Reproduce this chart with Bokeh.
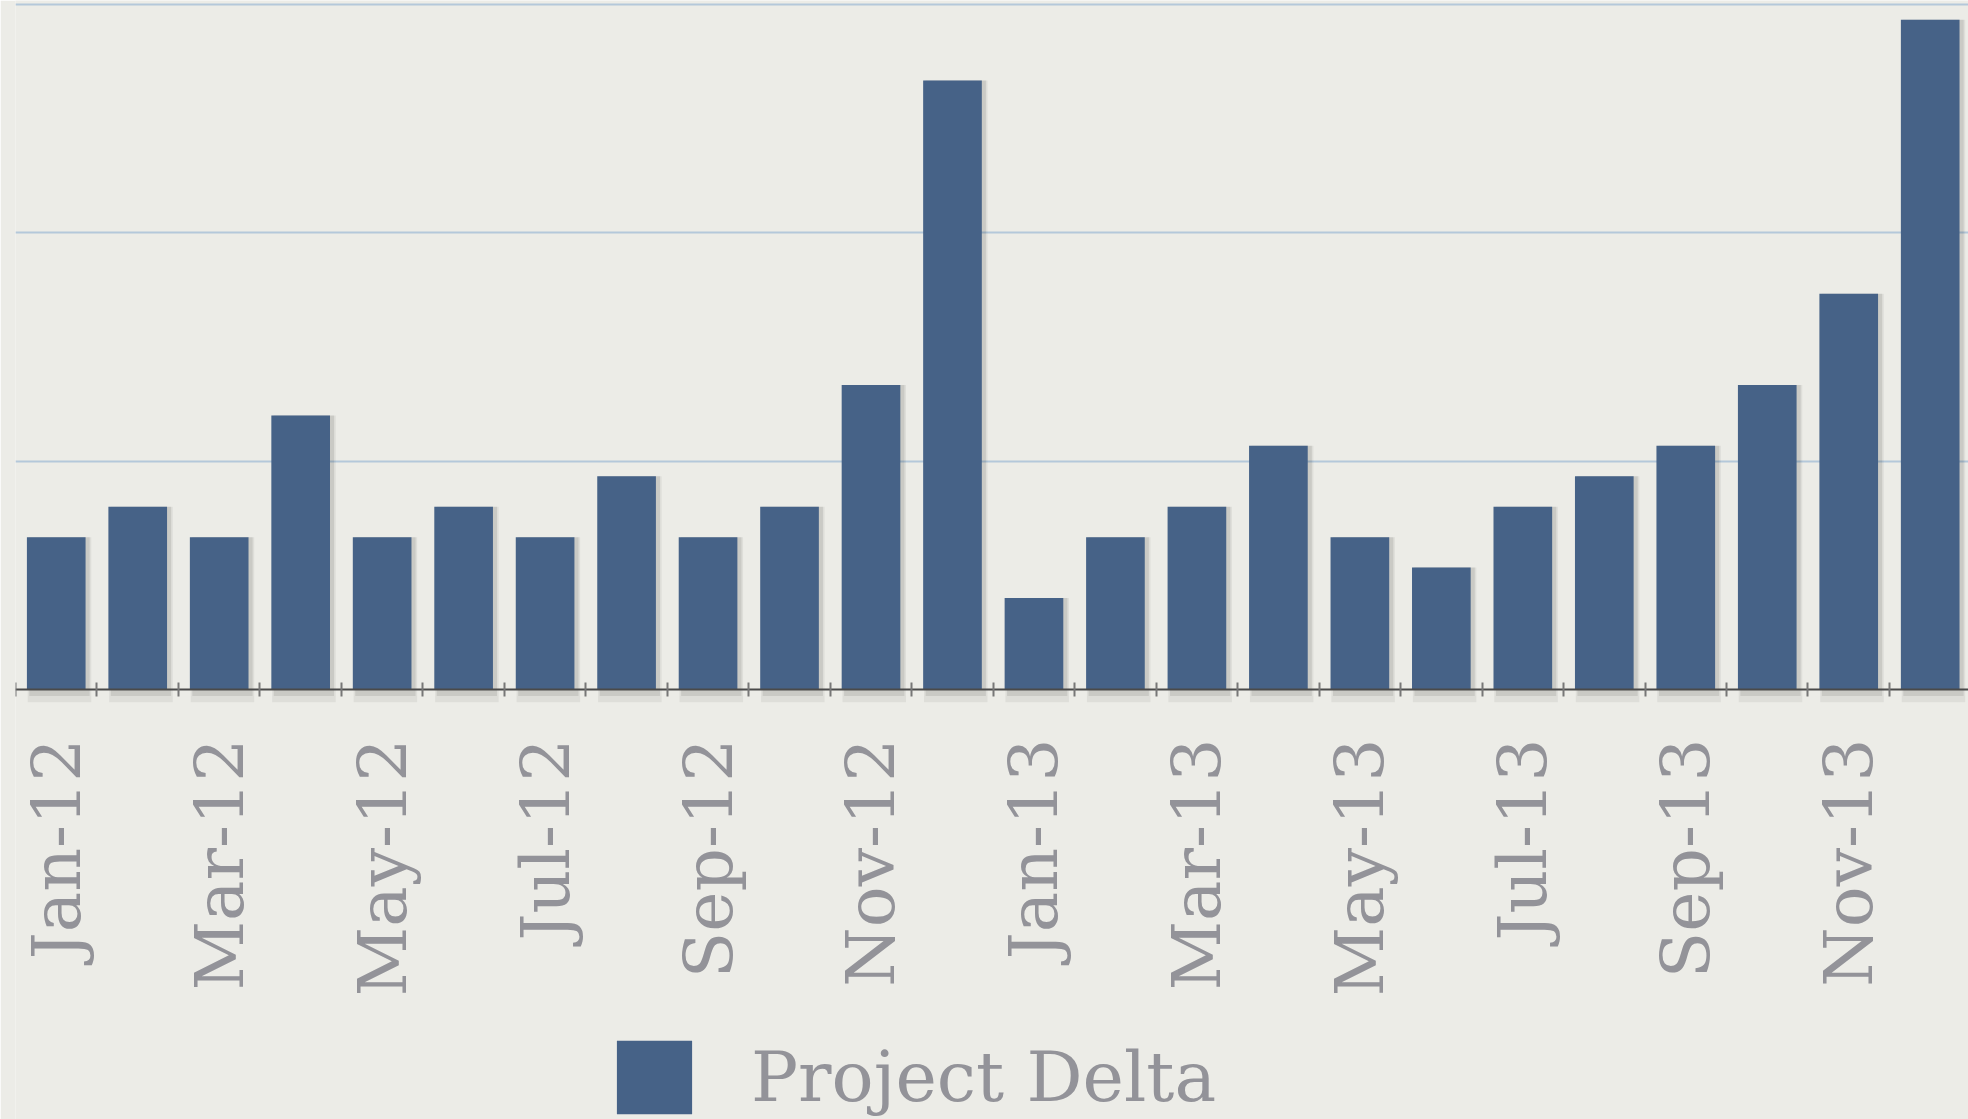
import math
from bokeh.plotting import figure
from bokeh.models import Range1d, FixedTicker, ColumnDataSource, Legend, LegendItem
from bokeh.embed import file_html
from bokeh.resources import INLINE

# ---- data ----
months = ["Jan-12", "Feb-12", "Mar-12", "Apr-12", "May-12", "Jun-12",
          "Jul-12", "Aug-12", "Sep-12", "Oct-12", "Nov-12", "Dec-12",
          "Jan-13", "Feb-13", "Mar-13", "Apr-13", "May-13", "Jun-13",
          "Jul-13", "Aug-13", "Sep-13", "Oct-13", "Nov-13", "Dec-13"]
values = [5, 6, 5, 9, 5, 6, 5, 7, 5, 6, 10, 20,
          3, 5, 6, 8, 5, 4, 6, 7, 8, 10, 13, 22]
series_name = "Project Delta"
gridlines = [7.5, 15, 22.5]

# ---- styles ----
BG = "#ECECE7"
BAR = "#466287"
GRAY = "#939399"
FONT = "DejaVu Serif"

xs = [i + 0.5 for i in range(len(months))]
src = ColumnDataSource(dict(x=xs, v=values,
                            sx=[x + 0.04 for x in xs]))

# frame covers the whole canvas; the x axis sits at y = 0 inside it
p = figure(width=1968, height=1119, output_backend="svg", toolbar_location=None,
           x_range=Range1d(0, 23.97), y_range=Range1d(-14.13, 22.63),
           y_axis_location=None, background_fill_color=BG, border_fill_color=BG,
           min_border_left=15, min_border_right=0, min_border_top=0,
           min_border_bottom=0)
p.outline_line_color = None
p.xgrid.visible = False
p.ygrid.ticker = FixedTicker(ticks=gridlines)
p.ygrid.grid_line_color = "#B4C8DA"
p.ygrid.grid_line_width = 2

# soft drop shadow under the bars
p.vbar(x="sx", top="v", bottom=-0.42, width=0.78, source=src,
       fill_color="#000000", fill_alpha=0.06, line_color=None)
p.vbar(x="sx", top="v", bottom=-0.22, width=0.74, source=src,
       fill_color="#000000", fill_alpha=0.09, line_color=None)

r = p.vbar(x="x", top="v", width=0.72, source=src,
           fill_color=BAR, line_color=None)

labeled = [xs[i] for i in range(0, len(months), 2)]
ax = p.xaxis[0]
ax.fixed_location = 0
ax.ticker = FixedTicker(ticks=labeled, minor_ticks=list(range(0, len(months) + 1)))
ax.major_label_overrides = {xs[i]: months[i] for i in range(0, len(months), 2)}
ax.major_label_orientation = math.pi / 2
ax.major_tick_in = 0
ax.major_tick_out = 0
ax.minor_tick_in = 7
ax.minor_tick_out = 7
ax.minor_tick_line_color = "#777777"
ax.minor_tick_line_width = 2
ax.axis_line_color = "#4A4A4A"
ax.axis_line_width = 2
ax.major_label_standoff = 42
ax.major_label_text_font = FONT
ax.major_label_text_font_size = "68px"
ax.major_label_text_color = GRAY

legend = Legend(items=[LegendItem(label=series_name, renderers=[r])],
                location=(592, -4), orientation="horizontal",
                glyph_width=94, glyph_height=92, label_height=92,
                label_text_font=FONT, label_text_font_size="70px",
                label_text_color=GRAY, label_standoff=50,
                background_fill_alpha=0, border_line_color=None,
                padding=0, margin=0, spacing=0)
p.add_layout(legend, "center")

open("out.html", "w").write(file_html(p, INLINE))
